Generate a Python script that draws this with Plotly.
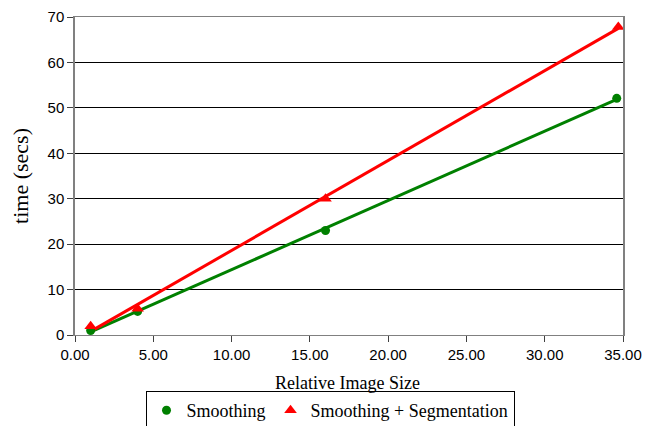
import numpy as np
import plotly.graph_objects as go

# Data
smooth_x = [1.0, 4.0, 16.0, 34.6]
smooth_y = [1.0, 5.2, 23.0, 52.1]
seg_x = [1.0, 4.0, 16.0, 34.7]
seg_y = [1.9, 5.8, 30.0, 67.8]

x_ticks = [0, 5, 10, 15, 20, 25, 30, 35]
y_ticks = [0, 10, 20, 30, 40, 50, 60, 70]

GREEN = "#008000"
RED = "#FF0000"


def trend(xs, ys):
    k, b = np.polyfit(xs, ys, 1)
    tx = [min(xs), max(xs)]
    return tx, [k * v + b for v in tx]


fig = go.Figure()

tx, ty = trend(smooth_x, smooth_y)
fig.add_trace(go.Scatter(x=tx, y=ty, mode="lines", line=dict(color=GREEN, width=3),
                         showlegend=False, hoverinfo="skip"))
tx, ty = trend(seg_x, seg_y)
fig.add_trace(go.Scatter(x=tx, y=ty, mode="lines", line=dict(color=RED, width=3),
                         showlegend=False, hoverinfo="skip"))

fig.add_trace(go.Scatter(x=smooth_x, y=smooth_y, mode="markers", name="Smoothing",
                         marker=dict(symbol="circle", size=9, color=GREEN)))
fig.add_trace(go.Scatter(x=seg_x, y=seg_y, mode="markers", name="Smoothing + Segmentation",
                         marker=dict(symbol="triangle-up", size=11, color=RED)))

tick_font = dict(family="Liberation Sans, Arial", size=15, color="black")
serif = "Liberation Serif, Times New Roman"

# page body has an 8px margin; margins compensate so the plot lands where the reference has it
fig.update_layout(
    width=660, height=426,
    margin=dict(l=67, r=45, t=9, b=99),
    paper_bgcolor="white", plot_bgcolor="white",
    showlegend=True,
    legend=dict(orientation="h", x=(330 - 8) / 660, xref="container", xanchor="center",
                y=1 - 383 / 426, yref="container", yanchor="top",
                bordercolor="black", borderwidth=1, bgcolor="white",
                font=dict(family=serif, size=18, color="black"),
                itemwidth=30, tracegroupgap=0),
    xaxis=dict(range=[0, 35], tickvals=x_ticks, tickformat=".2f",
               showgrid=False, zeroline=False, automargin=False,
               showline=True, linecolor="#808080", linewidth=1, mirror=True,
               ticks="outside", ticklen=6, tickcolor="#404040",
               tickfont=tick_font, ticklabeloverflow="allow"),
    yaxis=dict(range=[0, 70], tickvals=y_ticks,
               showgrid=True, gridcolor="#000000", gridwidth=1, zeroline=False, automargin="left",
               showline=True, linecolor="#808080", linewidth=1.5, mirror=True,
               ticks="outside", ticklen=6, tickcolor="#404040",
               tickfont=tick_font, ticklabeloverflow="allow",
               title=dict(text="time (secs)", standoff=14,
                          font=dict(family=serif, size=22, color="black"))),
    annotations=[dict(text="Relative Image Size", xref="paper", yref="paper",
                      x=0.498, y=-0.151, xanchor="center", yanchor="middle",
                      showarrow=False, font=dict(family=serif, size=18, color="black"))],
)

fig.write_html("out.html")
